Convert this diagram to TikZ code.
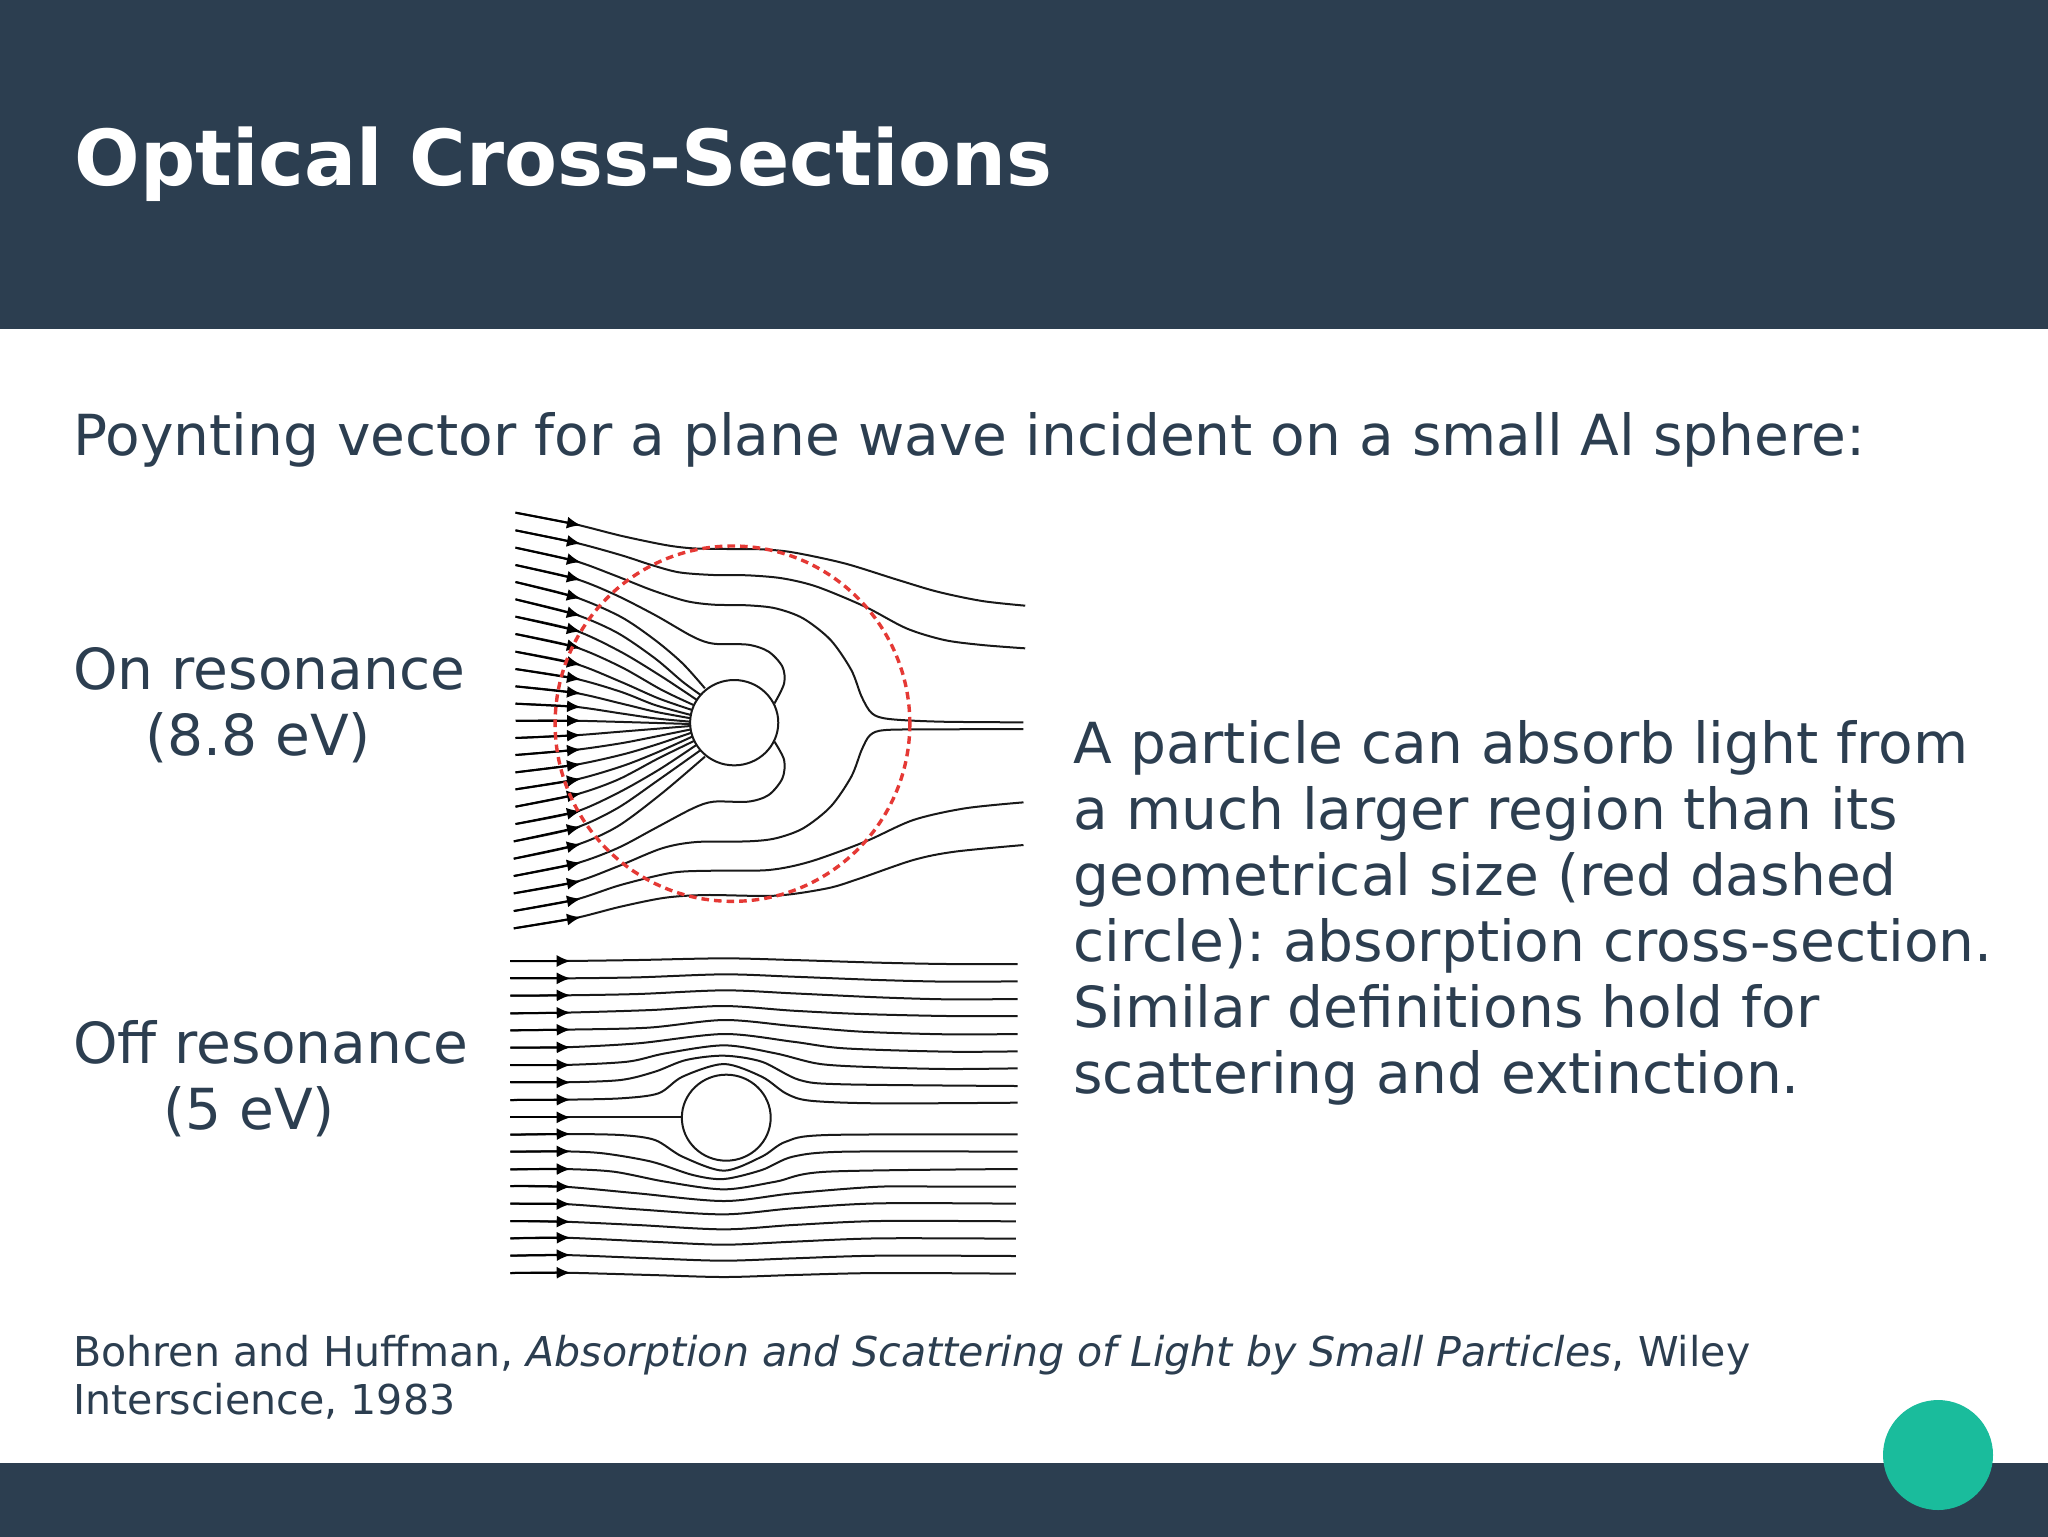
\documentclass[tikz,border=0pt]{standalone}
\usepackage{fontspec}
\setmainfont{DejaVu Sans}
\usetikzlibrary{arrows.meta}
\definecolor{slate}{HTML}{2C3E50}
\definecolor{teal}{HTML}{1ABC9C}
\definecolor{ringred}{HTML}{E53935}
\frenchspacing
\tikzset{
  slidetext/.style={anchor=north west,inner sep=0pt,text=slate,align=left},
  bodytext/.style={slidetext,font=\fontsize{28.3}{33}\selectfont},
  flow/.style={black!90,line width=1pt},
  flowtip/.style={black,line width=1pt,-{Latex[length=7pt,width=6pt]},shorten >=-3.5pt},
  sphere/.style={black!90,line width=1pt,fill=white},
}
\newcommand{\flowline}[3]{
  \draw[flow] plot[smooth] coordinates {#1 #2 #3};
  \draw[flowtip] #1 -- #2;
}
\begin{document}
\begin{tikzpicture}[x=0.5pt,y=-0.5pt]
\useasboundingbox (0,0) rectangle (2048,1536);
\fill[white] (-5,-5) rectangle (2053,1541);
\fill[slate] (-5,-5) rectangle (2053,329);
\fill[slate] (-5,1463) rectangle (2053,1541);
\fill[teal] (1938,1455) circle [radius=27.5pt];

\node[slidetext,text=white,font=\fontsize{38.6}{46}\selectfont\bfseries] (title) at (74,126) {Optical Cross-Sections};
\node[bodytext] (intro) at (73,412) {Poynting vector for a plane wave incident on a small Al sphere:};
\node[bodytext] (onres) at (73,647) {On resonance\\\hspace*{36pt}(8.8 eV)};
\node[bodytext] (offres) at (73,1020) {Off resonance\\\hspace*{45pt}(5 eV)};
\node[bodytext] (explain) at (1073,720) {A particle can absorb light from\\a much larger region than its\\geometrical size (red dashed\\circle): absorption cross-section.\\Similar definitions hold for\\scattering and extinction.};
\node[slidetext,font=\fontsize{20.56}{23.7}\selectfont] (cite) at (73,1335) {Bohren and Huffman, \textit{Absorption and Scattering of Light by Small Particles}, Wiley\\Interscience, 1983};

\begin{scope}[shift={(500,500)},x=0.1722pt,y=-0.16667pt]
\flowline{(45,38)}{(215,72)}{(350,107) (480,135) (560,145) (660,147) (760,148) (850,157) (1000,190) (1150,238) (1270,275) (1400,303) (1525,317)}
\flowline{(45,91)}{(215,127)}{(350,165) (440,195) (520,217) (620,225) (720,226) (820,235) (920,260) (1060,320) (1180,385) (1290,420) (1400,435) (1525,445)}
\flowline{(45,143)}{(215,182)}{(330,225) (440,270) (540,303) (620,314) (720,316) (800,325) (880,355) (960,420) (1020,510) (1050,590) (1080,640) (1130,657) (1280,665) (1520,667)}
\flowline{(45,195)}{(215,235)}{(330,282) (450,345) (560,410) (620,431) (720,434) (780,455) (820,500) (825,550) (797,610)}
\flowline{(45,246)}{(215,290)}{(350,350) (450,420) (530,490) (595,565)}
\flowline{(45,298)}{(215,342)}{(340,398) (450,475) (530,545) (583,585)}
\flowline{(45,350)}{(215,390)}{(350,455) (470,530) (572,600)}
\flowline{(45,402)}{(215,440)}{(350,500) (470,570) (562,615)}
\flowline{(45,455)}{(215,490)}{(350,545) (460,595) (558,630)}
\flowline{(45,507)}{(215,535)}{(350,575) (450,615) (555,645)}
\flowline{(45,559)}{(215,578)}{(350,610) (450,635) (555,655)}
\flowline{(45,611)}{(215,620)}{(350,640) (450,655) (553,665)}
\flowline{(45,662)}{(215,662)}{(553,672)}
\flowline{(45,714)}{(215,706)}{(350,695) (553,678)}
\flowline{(45,765)}{(215,750)}{(350,730) (450,710) (555,688)}
\flowline{(45,817)}{(215,795)}{(350,765) (450,735) (556,698)}
\flowline{(45,868)}{(215,840)}{(350,800) (450,760) (558,710)}
\flowline{(45,920)}{(215,885)}{(340,840) (460,775) (565,722)}
\flowline{(45,972)}{(215,937)}{(340,880) (460,810) (570,735)}
\flowline{(40,1024)}{(215,985)}{(340,925) (460,840) (583,750)}
\flowline{(40,1076)}{(215,1037)}{(340,980) (470,880) (595,770)}
\flowline{(40,1128)}{(215,1092)}{(340,1045) (450,985) (560,925) (620,905) (720,905) (780,885) (820,835) (825,780) (797,725)}
\flowline{(40,1180)}{(215,1147)}{(340,1100) (470,1045) (570,1026) (720,1024) (800,1015) (880,985) (960,920) (1020,830) (1050,750) (1075,705) (1120,690) (1280,688) (1520,687)}
\flowline{(40,1233)}{(215,1200)}{(350,1155) (500,1118) (620,1112) (780,1110) (900,1085) (1060,1025) (1200,960) (1350,925) (1520,907)}
\flowline{(40,1285)}{(215,1255)}{(350,1220) (480,1193) (600,1185) (800,1187) (950,1165) (1040,1137) (1200,1080) (1320,1055) (1520,1035)}
\draw[sphere] (680,668) circle [radius=128];
\draw[ringred,line width=1.7pt,dash pattern=on 3.8pt off 2.5pt] (675,671) ellipse [x radius=515,y radius=533];
\end{scope}

\begin{scope}[shift={(500,940)},x=0.1722pt,y=-0.16667pt]
\flowline{(30,63)}{(185,63)}{(400,60) (650,55) (850,60) (1100,68) (1300,72) (1503,72)}
\flowline{(30,115)}{(185,115)}{(400,112) (650,103) (850,110) (1100,120) (1300,125) (1503,124)}
\flowline{(30,167)}{(185,166)}{(400,162) (650,151) (850,160) (1100,172) (1300,178) (1503,177)}
\flowline{(30,220)}{(185,218)}{(440,210) (650,198) (850,212) (1050,222) (1300,228) (1503,228)}
\flowline{(30,271)}{(185,269)}{(430,263) (650,240) (850,258) (1050,275) (1300,283) (1503,282)}
\flowline{(30,323)}{(185,322)}{(400,310) (650,282) (850,305) (1000,325) (1300,335) (1503,334)}
\flowline{(30,375)}{(185,375)}{(370,365) (480,340) (650,316) (800,340) (930,372) (1100,382) (1300,387) (1503,385)}
\flowline{(30,427)}{(185,427)}{(350,420) (450,395) (540,360) (650,347) (760,365) (870,420) (1000,433) (1503,438)}
\flowline{(30,480)}{(185,479)}{(350,475) (460,460) (530,410) (650,372) (760,410) (830,460) (900,482) (1100,490) (1503,488)}
\flowline{(30,532)}{(185,532)}{(528,532)}
\flowline{(30,584)}{(185,582)}{(350,585) (450,600) (530,650) (650,692) (760,650) (830,605) (950,585) (1503,583)}
\flowline{(30,635)}{(185,634)}{(300,640) (440,665) (560,705) (650,717) (760,690) (850,650) (1000,635) (1503,635)}
\flowline{(30,688)}{(185,687)}{(330,695) (480,725) (650,748) (800,725) (950,695) (1503,687)}
\flowline{(30,738)}{(185,740)}{(400,760) (650,783) (850,760) (1100,740) (1300,740) (1498,740)}
\flowline{(30,791)}{(185,792)}{(400,808) (650,823) (850,805) (1100,790) (1498,791)}
\flowline{(30,843)}{(185,845)}{(400,855) (650,868) (850,855) (1100,843) (1498,844)}
\flowline{(30,895)}{(185,893)}{(440,905) (650,914) (850,905) (1100,895) (1498,896)}
\flowline{(30,947)}{(185,945)}{(440,955) (650,962) (850,955) (1100,947) (1498,948)}
\flowline{(30,999)}{(185,998)}{(440,1005) (650,1011) (850,1005) (1100,999) (1498,1001)}
\draw[sphere] (657,533) circle [radius=129];
\end{scope}
\end{tikzpicture}
\end{document}
